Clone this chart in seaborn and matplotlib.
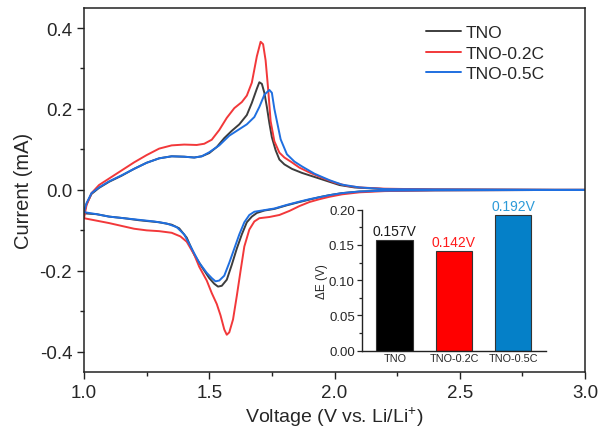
import numpy as np
import pandas as pd
import matplotlib
matplotlib.use("Agg")
import matplotlib.pyplot as plt
import seaborn as sns
from matplotlib.ticker import MultipleLocator

# CV curves: anodic sweep (1.0 -> 3.0 V), cathodic sweep (3.0 -> 1.0 V)
tno_anodic_v = [1.00, 1.01, 1.03, 1.06, 1.10, 1.15, 1.20, 1.25, 1.30, 1.35, 1.40, 1.44, 1.47, 1.50,
                1.53, 1.56, 1.59, 1.62, 1.65, 1.67, 1.69, 1.70, 1.71, 1.72, 1.73, 1.74, 1.75, 1.765,
                1.78, 1.80, 1.83, 1.87, 1.92, 1.97, 2.02, 2.08, 2.20, 2.40, 3.00]
tno_anodic_i = [-0.058, -0.035, -0.010, 0.005, 0.020, 0.035, 0.052, 0.067, 0.078, 0.083, 0.082, 0.080,
                0.083, 0.091, 0.106, 0.128, 0.146, 0.162, 0.185, 0.215, 0.250, 0.266, 0.262, 0.240,
                0.205, 0.165, 0.130, 0.098, 0.075, 0.063, 0.052, 0.042, 0.032, 0.022, 0.012, 0.006,
                0.002, 0.001, 0.000]
tno_cathodic_v = [3.00, 2.40, 2.20, 2.10, 2.03, 1.98, 1.94, 1.90, 1.86, 1.81, 1.76, 1.72, 1.69, 1.67,
                  1.65, 1.63, 1.61, 1.59, 1.57, 1.55, 1.535, 1.52, 1.50, 1.47, 1.44, 1.41, 1.38, 1.35,
                  1.30, 1.22, 1.16, 1.10, 1.05, 1.00]
tno_cathodic_i = [0.000, -0.001, -0.002, -0.004, -0.008, -0.013, -0.018, -0.024, -0.030, -0.038,
                  -0.047, -0.051, -0.057, -0.066, -0.080, -0.110, -0.145, -0.185, -0.222, -0.237,
                  -0.239, -0.232, -0.218, -0.190, -0.160, -0.118, -0.095, -0.086, -0.080, -0.075,
                  -0.070, -0.066, -0.060, -0.058]

c02_anodic_v = [1.00, 1.01, 1.03, 1.06, 1.10, 1.15, 1.20, 1.25, 1.30, 1.35, 1.40, 1.45, 1.48, 1.51,
                1.54, 1.57, 1.60, 1.63, 1.65, 1.67, 1.69, 1.705, 1.715, 1.725, 1.735, 1.745, 1.76,
                1.78, 1.80, 1.83, 1.86, 1.90, 1.95, 2.00, 2.05, 2.10, 2.20, 2.40, 3.00]
c02_anodic_i = [-0.070, -0.038, -0.008, 0.012, 0.028, 0.048, 0.068, 0.086, 0.102, 0.110, 0.112, 0.111,
                0.114, 0.124, 0.148, 0.178, 0.202, 0.217, 0.233, 0.265, 0.330, 0.366, 0.360, 0.320,
                0.250, 0.170, 0.120, 0.092, 0.080, 0.068, 0.055, 0.043, 0.030, 0.018, 0.010, 0.006,
                0.003, 0.001, 0.000]
c02_cathodic_v = [3.00, 2.40, 2.20, 2.10, 2.03, 1.98, 1.94, 1.90, 1.86, 1.82, 1.78, 1.74, 1.70, 1.68,
                  1.66, 1.64, 1.625, 1.61, 1.595, 1.58, 1.57, 1.56, 1.545, 1.53, 1.51, 1.49, 1.46,
                  1.44, 1.41, 1.385, 1.35, 1.30, 1.25, 1.20, 1.15, 1.10, 1.05, 1.00]
c02_cathodic_i = [0.000, -0.001, -0.003, -0.006, -0.011, -0.017, -0.023, -0.030, -0.040, -0.052,
                  -0.062, -0.067, -0.070, -0.078, -0.098, -0.140, -0.200, -0.262, -0.320, -0.352,
                  -0.358, -0.345, -0.310, -0.282, -0.255, -0.224, -0.190, -0.160, -0.128, -0.115,
                  -0.106, -0.102, -0.100, -0.096, -0.089, -0.082, -0.076, -0.070]

c05_anodic_v = [1.00, 1.01, 1.03, 1.06, 1.10, 1.15, 1.20, 1.25, 1.30, 1.35, 1.40, 1.44, 1.47, 1.50,
                1.54, 1.58, 1.62, 1.65, 1.68, 1.70, 1.72, 1.74, 1.75, 1.76, 1.77, 1.785, 1.81, 1.84,
                1.87, 1.92, 1.98, 2.03, 2.10, 2.20, 2.40, 3.00]
c05_anodic_i = [-0.055, -0.033, -0.008, 0.006, 0.021, 0.036, 0.052, 0.067, 0.078, 0.083, 0.082, 0.080,
                0.083, 0.093, 0.110, 0.134, 0.150, 0.162, 0.180, 0.205, 0.235, 0.247, 0.240, 0.200,
                0.170, 0.125, 0.088, 0.070, 0.058, 0.040, 0.024, 0.013, 0.006, 0.002, 0.001, 0.000]
c05_cathodic_v = [3.00, 2.40, 2.20, 2.10, 2.03, 1.98, 1.94, 1.90, 1.86, 1.81, 1.76, 1.72, 1.68, 1.66,
                  1.64, 1.62, 1.60, 1.58, 1.56, 1.54, 1.525, 1.51, 1.49, 1.46, 1.43, 1.40, 1.37, 1.33,
                  1.28, 1.22, 1.16, 1.10, 1.05, 1.00]
c05_cathodic_i = [0.000, -0.001, -0.002, -0.004, -0.008, -0.013, -0.018, -0.023, -0.029, -0.037,
                  -0.046, -0.050, -0.054, -0.062, -0.080, -0.110, -0.145, -0.180, -0.212, -0.224,
                  -0.226, -0.218, -0.205, -0.180, -0.145, -0.110, -0.092, -0.083, -0.078, -0.074,
                  -0.070, -0.066, -0.060, -0.055]

# inset: peak separation
samples = ["TNO", "TNO-0.2C", "TNO-0.5C"]
delta_e = [0.157, 0.142, 0.192]
delta_e_labels = ["0.157V", "0.142V", "0.192V"]

line_colors = ["#3d3d3d", "#f2383a", "#1f6fe0"]
bar_colors = ["#000000", "#ff0000", "#0580c8"]
label_colors = ["#1a1a1a", "#ff1a1a", "#2c9ad8"]

curves = [
    (tno_anodic_v + tno_cathodic_v, tno_anodic_i + tno_cathodic_i),
    (c02_anodic_v + c02_cathodic_v, c02_anodic_i + c02_cathodic_i),
    (c05_anodic_v + c05_cathodic_v, c05_anodic_i + c05_cathodic_i),
]

sns.set_theme(style="ticks")
plt.rcParams["font.family"] = ["Liberation Sans", "DejaVu Sans"]
plt.rcParams["mathtext.fontset"] = "custom"
plt.rcParams["mathtext.rm"] = "Liberation Sans"
plt.rcParams["axes.unicode_minus"] = False

fig = plt.figure(figsize=(6.0, 4.31), dpi=100)
ax = fig.add_axes([0.14, 0.1346, 0.835, 0.845])

for (v, i), name, col in zip(curves, samples, line_colors):
    df = pd.DataFrame({"Voltage": v, "Current": i})
    sns.lineplot(data=df, x="Voltage", y="Current", sort=False, estimator=None,
                 color=col, lw=1.4, label=name, ax=ax)

ax.set_xlim(1.0, 3.0)
ax.set_ylim(-0.45, 0.45)
ax.xaxis.set_major_locator(MultipleLocator(0.5))
ax.xaxis.set_minor_locator(MultipleLocator(0.25))
ax.yaxis.set_major_locator(MultipleLocator(0.2))
ax.yaxis.set_minor_locator(MultipleLocator(0.1))
ax.tick_params(which="major", length=5, width=1, labelsize=13.5, color="#222222")
ax.tick_params(axis="x", which="major", pad=4)
ax.tick_params(which="minor", length=3, width=1, color="#222222")
for s in ax.spines.values():
    s.set_linewidth(1.1)
    s.set_color("#222222")
ax.set_xlabel("Voltage (V vs. Li/Li$^{+}$)", fontsize=14, labelpad=2)
ax.set_ylabel("Current (mA)", fontsize=14.5, labelpad=5)

ax.legend(loc="upper left", bbox_to_anchor=(0.683, 0.952), frameon=False, fontsize=12.5,
          handlelength=2.0, handletextpad=0.3, labelspacing=0.3, borderaxespad=0, borderpad=0)

# inset bar chart
ax_in = fig.add_axes([0.603, 0.184, 0.307, 0.327])
ax_in.set_facecolor("none")
sns.barplot(x=samples, y=delta_e, hue=samples, palette=bar_colors, legend=False, saturation=1,
            width=0.62, edgecolor="#333333", linewidth=0.8, ax=ax_in)
ax_in.set_xlim(-0.557, 2.557)
ax_in.set_ylim(0, 0.20)
ax_in.yaxis.set_major_locator(MultipleLocator(0.05))
ax_in.yaxis.set_minor_locator(MultipleLocator(0.025))
ax_in.yaxis.set_major_formatter(plt.FormatStrFormatter("%.2f"))
ax_in.tick_params(axis="y", which="major", length=3.5, width=0.9, labelsize=9.5, pad=1.5)
ax_in.tick_params(axis="y", which="minor", length=2, width=0.9)
ax_in.tick_params(axis="x", length=0, labelsize=7.8, pad=1.5)
ax_in.set_ylabel("ΔE (V)", fontsize=8.5, labelpad=1)
sns.despine(ax=ax_in)
for s in ax_in.spines.values():
    s.set_linewidth(1.0)
    s.set_color("#222222")

for bar, txt, col in zip(ax_in.patches, delta_e_labels, label_colors):
    ax_in.annotate(txt, (bar.get_x() + bar.get_width() / 2, bar.get_height()),
                   xytext=(0, 1.5), textcoords="offset points", ha="center", va="bottom",
                   fontsize=10, color=col, annotation_clip=False)

fig.savefig("out.png", dpi=100)
